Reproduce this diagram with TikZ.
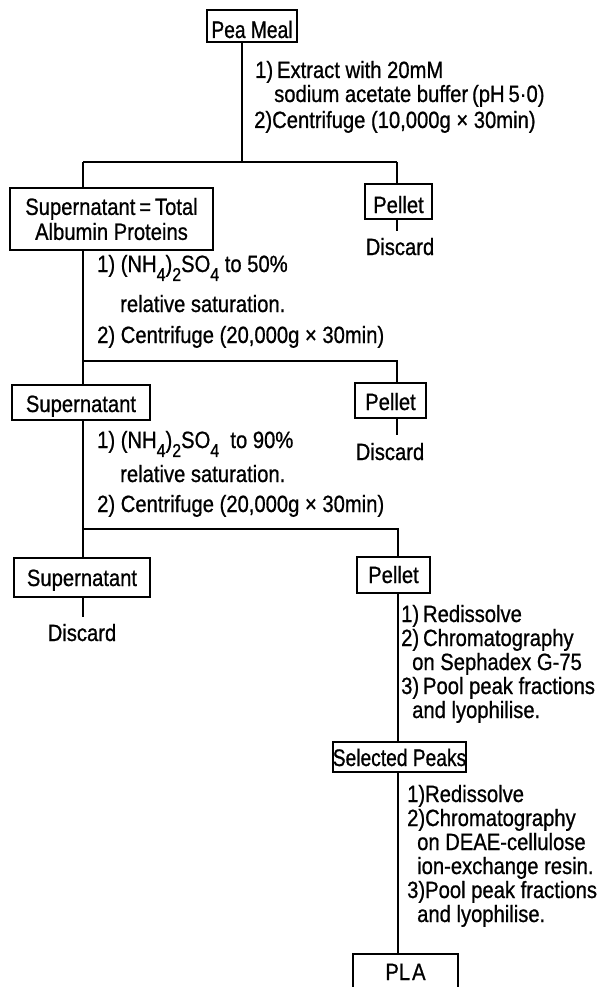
\documentclass[tikz,border=0pt]{standalone}
\usepackage{fontspec}
\setmainfont{Liberation Sans}[FakeStretch=0.86,FakeBold=0.8]
\newfontfamily\narrowfont{Liberation Sans}[FakeStretch=0.8,FakeBold=0.8]
\newcommand\chemsub[1]{\raisebox{-0.38em}{\fontsize{18.5}{18}\selectfont #1}}
\begin{document}
\begin{tikzpicture}[x=1pt,y=-1pt,
  every node/.style={font=\fontsize{23.5}{25}\selectfont, inner sep=0pt},
  box/.style={draw, line width=1.7pt, anchor=base},
  narrowbox/.style={box, font=\narrowfont\fontsize{24}{25}\selectfont},
  txt/.style={anchor=base west},
  lbl/.style={anchor=base},
  conn/.style={line width=1.6pt}]
\useasboundingbox (0,0) rectangle (608,987);
\clip (0,0) rectangle (608,987);
% boxes
\node[narrowbox, minimum width=90pt, text height=28pt, text depth=4pt] (pea) at (252,38) {Pea Meal};
\node[box, minimum width=203pt, minimum height=62pt, align=center, anchor=center] (sup1) at (111.5,219) {Supernatant\,=\,Total\\Albumin Proteins};
\node[box, minimum width=67pt, text height=29pt, text depth=6pt] (pel1) at (398.5,213) {Pellet};
\node[lbl, text height=24pt] (dis1) at (400,255) {Discard};
\node[box, minimum width=138pt, text height=27pt, text depth=8pt] (sup2) at (81,412) {Supernatant};
\node[box, minimum width=71pt, text height=27pt, text depth=8pt] (pel2) at (390.5,410) {Pellet};
\node[lbl, text height=25pt] (dis2) at (390,460) {Discard};
\node[box, minimum width=136pt, text height=28pt, text depth=11pt] (sup3) at (82,586) {Supernatant};
\node[lbl, text height=24pt] (dis3) at (82,641) {Discard};
\node[box, minimum width=73pt, text height=26pt, text depth=10pt] (pel3) at (393.5,583) {Pellet};
\node[narrowbox, minimum width=133pt, text height=24pt, text depth=6pt] (sel) at (399.5,766) {Selected Peaks};
\node[box, minimum width=105pt, text height=26pt, text depth=15pt] (pla) at (405.5,980) {PL\kern2pt A};
% junctions
\coordinate (j0) at (242,162);
\coordinate (jl1) at (83,162);
\coordinate (jr1) at (397,162);
\coordinate (jl2) at (83,361);
\coordinate (jr2) at (397,361);
\coordinate (jl3) at (83,529);
\coordinate (jr3) at (398,529);
% connectors
\draw[conn] (pea.south -| j0) -- (j0);
\draw[conn] (jl1) -- (jr1);
\draw[conn] (jl1) -- (sup1.north -| jl1);
\draw[conn] (jr1) -- (pel1.north -| jr1);
\draw[conn] (pel1.south -| jr1) -- (dis1.north -| jr1);
\draw[conn] (sup1.south -| jl2) -- (jl2) -- (jr2) -- (pel2.north -| jr2);
\draw[conn] (jl2) -- (sup2.north -| jl2);
\draw[conn] (pel2.south -| jr2) -- (dis2.north -| jr2);
\draw[conn] (sup2.south -| jl3) -- (jl3) -- (jr3) -- (pel3.north -| jr3);
\draw[conn] (jl3) -- (sup3.north -| jl3);
\draw[conn] (sup3.south -| jl3) -- (dis3.north -| jl3);
\draw[conn] (pel3.south -| jr3) -- (sel.north -| jr3);
\draw[conn] (sel.south -| jr3) -- (pla.north -| jr3);
% step texts
\node[txt] (a1) at (255,78) {1)\,Extract with 20mM};
\node[txt] (a2) at (274,102) {sodium acetate buffer\,(pH\,5·0)};
\node[txt] (a3) at (254,128) {2)Centrifuge (10,000g × 30min)};
\node[txt] (b1) at (97,272) {1) (NH\chemsub{4})\chemsub{2}SO\chemsub{4} to 50\%};
\node[txt] (b2) at (120,312) {relative saturation.};
\node[txt] (b3) at (97,343) {2) Centrifuge (20,000g × 30min)};
\node[txt] (c1) at (97,448) {1) (NH\chemsub{4})\chemsub{2}SO\chemsub{4}\ \ to 90\%};
\node[txt] (c2) at (120,482) {relative saturation.};
\node[txt] (c3) at (97,512) {2) Centrifuge (20,000g × 30min)};
\node[txt] (d1) at (401,622) {1)\,Redissolve};
\node[txt] (d2) at (401,646) {2)\,Chromatography};
\node[txt] (d3) at (412,670) {on Sephadex G-75};
\node[txt] (d4) at (401,694) {3)\,Pool peak fractions};
\node[txt] (d5) at (412,718) {and lyophilise.};
\node[txt] (e1) at (407,802) {1)Redissolve};
\node[txt] (e2) at (407,826) {2)Chromatography};
\node[txt] (e3) at (417,850) {on DEAE-cellulose};
\node[txt] (e4) at (417,874) {ion-exchange resin.};
\node[txt] (e5) at (407,898) {3)Pool peak fractions};
\node[txt] (e6) at (417,922) {and lyophilise.};
\end{tikzpicture}
\end{document}
